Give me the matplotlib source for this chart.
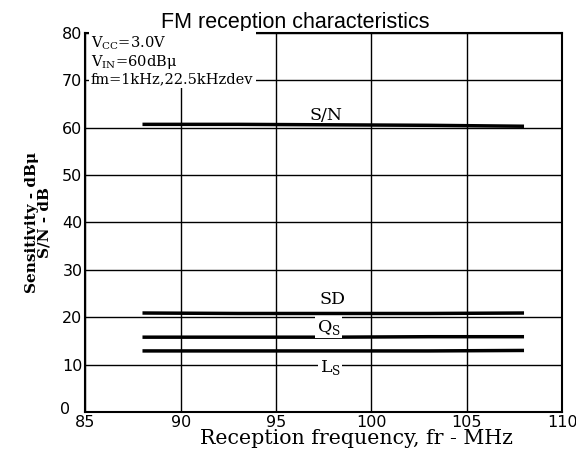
import matplotlib
matplotlib.use("Agg")
import matplotlib.pyplot as plt
import matplotlib.transforms as mtransforms

freq = [88, 93, 98, 103, 108]
sn = [60.7, 60.7, 60.6, 60.5, 60.3]
sd = [20.9, 20.8, 20.8, 20.8, 20.9]
qs = [15.8, 15.8, 15.8, 15.9, 15.9]
ls = [12.9, 12.9, 12.9, 12.9, 13.0]
xticks = [85, 90, 95, 100, 105, 110]
yticks = [0, 10, 20, 30, 40, 50, 60, 70, 80]

fig = plt.figure(figsize=(5.76, 4.63), dpi=100)
ax = fig.add_axes([0.148, 0.110, 0.828, 0.819])
ax.set_xlim(85, 110)
ax.set_ylim(0, 80)
ax.set_xticks(xticks)
ax.set_yticks(yticks)
ax.grid(True, color="black", linewidth=1.0)
ax.tick_params(direction="in", length=0, labelsize=11.5, pad=2)
for s in ax.spines.values():
    s.set_linewidth(1.5)

# shift the "0" label up-left as in the reference
zero = ax.get_yticklabels()[0]
zero.set_transform(zero.get_transform() + mtransforms.ScaledTranslation(-9/72, 3/72, fig.dpi_scale_trans))

for vals in (sn, sd, qs, ls):
    ax.plot(freq, vals, color="black", linewidth=2.5, solid_capstyle="butt", zorder=3)

serif = "DejaVu Serif"
lbl = dict(family=serif, fontsize=12.5, ha="center", va="center", zorder=4)
wb = dict(facecolor="white", edgecolor="none", pad=1)
ax.text(97.6, 62.6, "S/N", **lbl)
ax.text(97.95, 23.8, "SD", **lbl)
ax.text(97.75, 17.9, "Q$_\\mathregular{S}$", bbox=wb, **lbl)
ax.text(97.85, 9.5, "L$_\\mathregular{S}$", bbox=wb, **lbl)

ax.text(85.3, 79.7,
        "V$_\\mathregular{CC}$=3.0V\nV$_\\mathregular{IN}$=60dBμ\nfm=1kHz,22.5kHzdev",
        family=serif, fontsize=10.5, ha="left", va="top", linespacing=1.1, zorder=5,
        bbox=dict(facecolor="white", edgecolor="none", pad=1.5))

ax.set_title("FM reception characteristics", family="Liberation Sans", fontsize=15.5, pad=3, x=0.44)
ax.set_xlabel("Reception frequency, fr - MHz", family=serif, fontsize=14.8, labelpad=4)
ax.xaxis.set_label_coords(0.568, -0.045)
ax.set_ylabel("Sensitivity - dBμ\nS/N - dB", family=serif, fontsize=11, fontweight="bold",
              labelpad=6, linespacing=0.85)

fig.savefig("out.png", dpi=100)
